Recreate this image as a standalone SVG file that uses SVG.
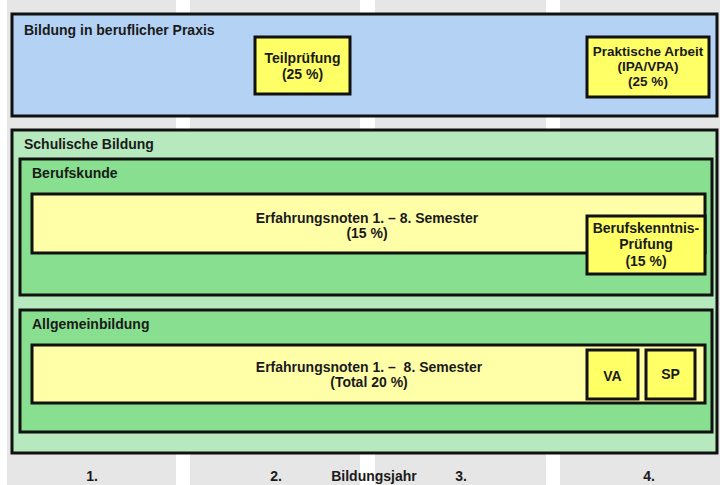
<svg xmlns="http://www.w3.org/2000/svg" width="720" height="485" viewBox="0 0 720 485">
<style>
text{font-family:"Liberation Sans",Arial,sans-serif;font-weight:bold;font-size:14px;fill:#1a1a1a}
.c{text-anchor:middle}
.col{fill:#e6e6e6}
.box{stroke:#111;stroke-width:3}
.blue{fill:#b4d3f4}
.lg{fill:#b6e9bd}
.mg{fill:#88df8f}
.ly{fill:#ffffa8}
.by{fill:#ffff66}
</style>
<rect width="720" height="485" fill="#ffffff"/>
<g id="columns">
<rect class="col" x="7" y="0" width="169" height="485"/>
<rect class="col" x="190" y="0" width="170" height="485"/>
<rect class="col" x="375" y="0" width="171" height="485"/>
<rect class="col" x="560" y="0" width="160" height="485"/>
</g>
<g id="praxis">
<rect class="box blue" x="12" y="14" width="705" height="102"/>
<text x="24" y="35">Bildung in beruflicher Praxis</text>
</g>
<g id="teilpruefung">
<rect class="box by" x="255" y="37" width="95" height="57"/>
<text class="c" x="302.5" y="63">Teilprüfung</text>
<text class="c" x="302.5" y="79">(25 %)</text>
</g>
<g id="praktische">
<rect class="box by" x="587" y="37" width="122" height="60"/>
<text class="c" x="648" y="56" style="font-size:13.5px">Praktische Arbeit</text>
<text class="c" x="648" y="71" style="font-size:13.5px">(IPA/VPA)</text>
<text class="c" x="648" y="86" style="font-size:13.5px">(25 %)</text>
</g>
<g id="schulisch">
<rect class="box lg" x="12" y="130" width="705" height="323"/>
<text x="24" y="149">Schulische Bildung</text>
</g>
<g id="berufskunde">
<rect class="box mg" x="20" y="159" width="692" height="136"/>
<text x="32" y="178">Berufskunde</text>
</g>
<g id="erfahrung1">
<rect class="box ly" x="32" y="194" width="673" height="59"/>
<text class="c" x="367" y="223">Erfahrungsnoten 1. – 8. Semester</text>
<text class="c" x="367" y="238">(15 %)</text>
</g>
<g id="berufskenntnis">
<rect class="box by" x="587" y="216" width="118" height="58"/>
<text class="c" x="646" y="233">Berufskenntnis-</text>
<text class="c" x="646" y="249">Prüfung</text>
<text class="c" x="646" y="266">(15 %)</text>
</g>
<g id="allgemein">
<rect class="box mg" x="20" y="310" width="692" height="122"/>
<text x="32" y="329">Allgemeinbildung</text>
</g>
<g id="erfahrung2">
<rect class="box ly" x="32" y="345" width="673" height="58"/>
<text class="c" x="369" y="372">Erfahrungsnoten 1. –&#160; 8. Semester</text>
<text class="c" x="369" y="387">(Total 20 %)</text>
</g>
<g id="va">
<rect class="box by" x="587" y="350" width="51" height="49"/>
<text class="c" x="612.5" y="381">VA</text>
</g>
<g id="sp">
<rect class="box by" x="646" y="350" width="49" height="49"/>
<text class="c" x="670.5" y="379">SP</text>
</g>
<g id="connectors"></g>
<g id="labels">
<text class="c" x="92" y="481">1.</text>
<text class="c" x="276" y="481">2.</text>
<text class="c" x="374" y="481">Bildungsjahr</text>
<text class="c" x="461" y="481">3.</text>
<text class="c" x="649" y="481">4.</text>
</g>
</svg>
